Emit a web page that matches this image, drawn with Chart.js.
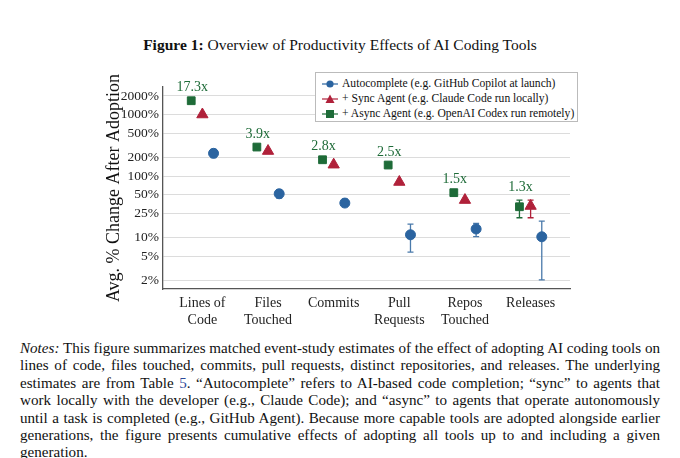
<!DOCTYPE html>
<html><head><meta charset="utf-8">
<script src="https://cdn.jsdelivr.net/npm/chart.js@4.4.0/dist/chart.umd.min.js"></script>
<style>
body{margin:0;width:680px;height:458px;background:#fff;position:relative;font-family:"Liberation Serif",serif;color:#111;overflow:hidden}
#title{position:absolute;top:36px;left:0;width:680px;text-align:center;font-size:15.5px}
#wrap{position:absolute;left:0;top:60px;width:680px;height:280px}
#legend{position:absolute;left:315px;top:72px;width:263px;height:50px;border:1px solid #bbb;background:#fff;font-size:11.6px;box-sizing:border-box;padding:3px 0 0 6px;line-height:15px}
#legend div{white-space:nowrap}
#legend svg{vertical-align:-2px;margin-right:4px}
#notes{position:absolute;left:20px;top:340px;width:640px;font-size:15.1px;line-height:17.4px;text-align:justify}
</style></head><body>
<div id="title"><b>Figure 1:</b> Overview of Productivity Effects of AI Coding Tools</div>
<div id="wrap"><canvas id="c"></canvas></div>
<div id="legend">
<div><svg width="16" height="10"><line x1="0" y1="5" x2="16" y2="5" stroke="#2b64a0" stroke-width="1.2"/><circle cx="8" cy="5" r="3.6" fill="#2b64a0"/></svg>Autocomplete (e.g. GitHub Copilot at launch)</div>
<div><svg width="16" height="10"><line x1="0" y1="5" x2="16" y2="5" stroke="#b0213a" stroke-width="1.2"/><polygon points="8,0.5 12.5,9 3.5,9" fill="#b0213a"/></svg>+ Sync Agent (e.g. Claude Code run locally)</div>
<div><svg width="16" height="10"><line x1="0" y1="5" x2="16" y2="5" stroke="#1e6b38" stroke-width="1.2"/><rect x="4" y="1" width="8" height="8" fill="#1e6b38"/></svg>+ Async Agent (e.g. OpenAI Codex run remotely)</div>
</div>
<div id="notes"><i>Notes:</i> This figure summarizes matched event-study estimates of the effect of adopting AI coding tools on lines of code, files touched, commits, pull requests, distinct repositories, and releases. The underlying estimates are from Table <span style="color:#2b4a9a">5</span>. “Autocomplete” refers to AI-based code completion; “sync” to agents that work locally with the developer (e.g., Claude Code); and “async” to agents that operate autonomously until a task is completed (e.g., GitHub Agent). Because more capable tools are adopted alongside earlier generations, the figure presents cumulative effects of adopting all tools up to and including a given generation.</div>
<script>
const categories=[["Lines of","Code"],["Files","Touched"],["Commits"],["Pull","Requests"],["Repos","Touched"],["Releases"]];
const autoVals=[234,51.5,36.4,11.1,13.8,10.3];
const autoLo=[200,44,32,5.8,10.4,2.05];
const autoHi=[270,60,42,16.6,17,18.5];
const syncVals=[1000,255,153,80,40.7,32.6];
const syncLo=[null,null,null,null,null,21];
const syncHi=[null,null,null,null,null,40.7];
const asyncVals=[1675,296,184,151,53.7,31.7];
const asyncLo=[null,null,null,null,null,21];
const asyncHi=[null,null,null,null,null,40.7];
const multLabels=["17.3x","3.9x","2.8x","2.5x","1.5x","1.3x"];
const yTicks=[2,5,10,25,50,100,200,500,1000,2000];
const BLUE="#2b64a0",RED="#b0213a",GREEN="#1e6b38";
const off=0.17;
function pts(v,d){return v.map((y,i)=>({x:i+d,y}));}
const sets=[
 {label:"Autocomplete",data:pts(autoVals,off),lo:autoLo,hi:autoHi,pointStyle:"circle",pointRadius:5,backgroundColor:BLUE,borderColor:BLUE,errColor:"#4a7aab"},
 {label:"Sync",data:pts(syncVals,0),lo:syncLo,hi:syncHi,pointStyle:"triangle",pointRadius:6.5,backgroundColor:RED,borderColor:RED,errColor:RED},
 {label:"Async",data:pts(asyncVals,-off),lo:asyncLo,hi:asyncHi,pointStyle:"rect",pointRadius:5.5,backgroundColor:GREEN,borderColor:GREEN,errColor:GREEN}
];
const errPlugin={id:"err",beforeDatasetsDraw(ch){
 const c=ch.ctx,xs=ch.scales.x,ys=ch.scales.y;
 ch.data.datasets.forEach(ds=>{ds.data.forEach((p,i)=>{
  if(ds.lo[i]==null)return;
  const x=xs.getPixelForValue(p.x),y1=ys.getPixelForValue(ds.lo[i]),y2=ys.getPixelForValue(ds.hi[i]);
  c.save();c.strokeStyle=ds.errColor;c.lineWidth=1.3;c.beginPath();
  c.moveTo(x,y1);c.lineTo(x,y2);c.moveTo(x-3,y1);c.lineTo(x+3,y1);c.moveTo(x-3,y2);c.lineTo(x+3,y2);c.stroke();c.restore();
 });});
},afterDatasetsDraw(ch){
 const c=ch.ctx,xs=ch.scales.x,ys=ch.scales.y;
 c.save();c.fillStyle=GREEN;c.font='14px "Liberation Serif"';c.textAlign="center";c.textBaseline="bottom";
 multLabels.forEach((t,i)=>{
  c.fillText(t,xs.getPixelForValue(i-off)+1,ys.getPixelForValue(Math.max(asyncVals[i],asyncHi[i]||0))-6);});
 c.restore();
}};
new Chart(document.getElementById("c"),{type:"scatter",data:{datasets:sets},
plugins:[errPlugin],
options:{responsive:true,maintainAspectRatio:false,animation:false,
 layout:{padding:{left:103,right:110,top:27,bottom:11}},
 plugins:{legend:{display:false},tooltip:{enabled:false}},
 scales:{
  x:{type:"linear",min:-0.6,max:5.6,
   afterBuildTicks(s){s.ticks=categories.map((_,i)=>({value:i}));},
   afterFit(s){s.height=40;},
   grid:{display:false,drawTicks:true,tickLength:4,color:"#555"},
   border:{color:"#555",width:1.3},
   ticks:{color:"#222",font:{family:"Liberation Serif",size:14},maxRotation:0,autoSkip:false,padding:2,
    callback:(v)=>categories[v]}},
  y:{type:"logarithmic",min:1.46,max:2800,
   afterBuildTicks(s){s.ticks=yTicks.map(v=>({value:v}));},
   afterFit(s){s.width=60;},
   grid:{color:"#dcdcdc",borderDash:[3,3],drawTicks:false},
   border:{color:"#555",width:1.3,dash:[]},
   ticks:{color:"#222",font:{family:"Liberation Serif",size:13.5},padding:4,callback:v=>v+"%"},
   title:{display:true,text:"Avg. % Change After Adoption",color:"#111",font:{family:"Liberation Serif",size:18},padding:0}}
 }}});
</script></body></html>
